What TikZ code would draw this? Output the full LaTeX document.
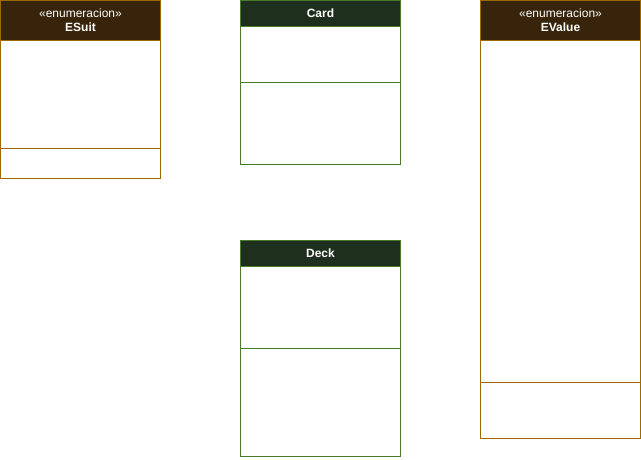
\documentclass[tikz,border=0pt]{standalone}
\usepackage{fontspec}
\setmainfont{Liberation Sans}
\definecolor{enumfill}{HTML}{38240B}
\definecolor{enumline}{HTML}{9C6A00}
\definecolor{clsfill}{HTML}{1F2F1E}
\definecolor{clsline}{HTML}{4A7A2C}
\begin{document}
\begin{tikzpicture}[x=1pt, y=-1pt, line width=1pt,
	enumbox/.style={draw=enumline},
	clsbox/.style={draw=clsline},
	headtext/.style={text=white, align=center, font=\fontsize{12}{14}\selectfont, inner sep=0pt}]
	\useasboundingbox (0,0) rectangle (641,460);
	% ESuit
	\draw[enumbox] (0.5,0.5) rectangle (160.5,178.5);
	\draw[enumbox, fill=enumfill] (0.5,0.5) rectangle (160.5,40.5);
	\draw[enumbox] (0.5,148.5)--(160.5,148.5);
	\node[headtext] (esuit) at (80.5,20.5) {«enumeracion»\\\textbf{ESuit}};
	% Card
	\draw[clsbox] (240.5,0.5) rectangle (400.5,164.5);
	\draw[clsbox, fill=clsfill] (240.5,0.5) rectangle (400.5,26.5);
	\draw[clsbox] (240.5,82.5)--(400.5,82.5);
	\node[headtext] (card) at (320.5,13.5) {\textbf{Card}};
	% Deck
	\draw[clsbox] (240.5,240.5) rectangle (400.5,456.5);
	\draw[clsbox, fill=clsfill] (240.5,240.5) rectangle (400.5,266.5);
	\draw[clsbox] (240.5,348.5)--(400.5,348.5);
	\node[headtext] (deck) at (320.5,253.5) {\textbf{Deck}};
	% EValue
	\draw[enumbox] (480.5,0.5) rectangle (640.5,438.5);
	\draw[enumbox, fill=enumfill] (480.5,0.5) rectangle (640.5,40.5);
	\draw[enumbox] (480.5,382.5)--(640.5,382.5);
	\node[headtext] (evalue) at (560.5,20.5) {«enumeracion»\\\textbf{EValue}};
\end{tikzpicture}
\end{document}
